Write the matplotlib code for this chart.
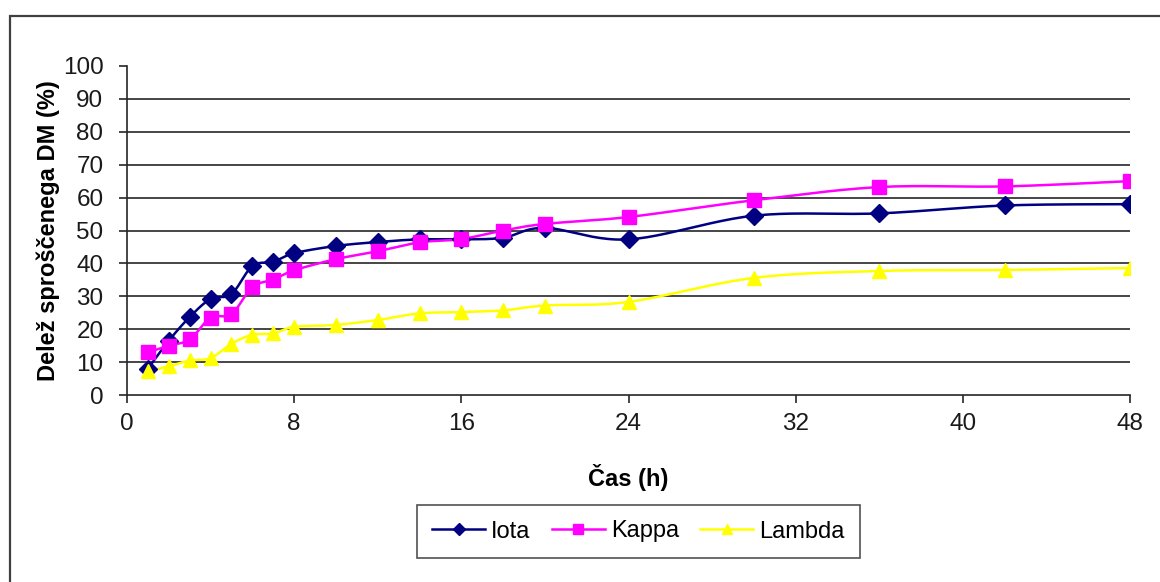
import numpy as np
import matplotlib
matplotlib.use("Agg")
import matplotlib.pyplot as plt
from matplotlib.patches import Rectangle

# Sampling times (h) and released dry-matter share (%)
hours = [1, 2, 3, 4, 5, 6, 7, 8, 10, 12, 14, 16, 18, 20, 24, 30, 36, 42, 48]
iota = [8.0, 16.5, 23.7, 29.2, 30.7, 39.2, 40.5, 43.1, 45.3, 46.5, 47.3, 47.3, 47.8, 50.8, 47.3, 54.5, 55.2, 57.6, 58.0]
kappa = [13.0, 15.0, 16.9, 23.5, 24.6, 32.8, 35.1, 37.9, 41.3, 43.7, 46.4, 47.4, 50.0, 52.0, 54.1, 59.2, 63.2, 63.4, 65.0]
lambda_ = [7.2, 8.7, 10.5, 11.2, 15.6, 18.3, 18.7, 20.7, 21.3, 22.8, 24.8, 25.2, 25.7, 27.2, 28.3, 35.6, 37.7, 38.0, 38.6]

series_names = ["Iota", "Kappa", "Lambda"]
x_ticks = [0, 8, 16, 24, 32, 40, 48]
y_ticks = list(range(0, 101, 10))

plt.rcParams["font.family"] = ["Liberation Sans", "DejaVu Sans"]


def smooth(xs, ys, n=24):
    """Catmull-Rom curve through the points, like a smoothed line chart."""
    p = np.column_stack([xs, ys]).astype(float)
    p = np.vstack([p[0], p, p[-1]])
    out = []
    t = np.linspace(0, 1, n, endpoint=False)[:, None]
    for i in range(1, len(p) - 2):
        p0, p1, p2, p3 = p[i - 1], p[i], p[i + 1], p[i + 2]
        c = 0.5 * ((2 * p1) + (-p0 + p2) * t + (2 * p0 - 5 * p1 + 4 * p2 - p3) * t ** 2
                   + (-p0 + 3 * p1 - 3 * p2 + p3) * t ** 3)
        out.append(c)
    out.append(p[-2][None, :])
    c = np.vstack(out)
    return c[:, 0], c[:, 1]


W, H = 1160, 582
fig = plt.figure(figsize=(W / 100, H / 100), dpi=100)
fig.patch.set_facecolor("white")

# Outer chart frame
fig.patches.append(Rectangle((9.5 / W, -0.05), 1.2, 1 - 15.5 / H + 0.05,
                             transform=fig.transFigure, fill=False,
                             edgecolor="#404040", linewidth=1.6, zorder=0))

ax = fig.add_axes([127 / W, 1 - 395 / H, (1130 - 127) / W, (395 - 66) / H])

styles = [
    dict(color="#000080", marker="D", ms=9),
    dict(color="#FF00FF", marker="s", ms=10),
    dict(color="#FFFF00", marker="^", ms=10.5),
]
for name, ys, st in zip(series_names, [iota, kappa, lambda_], styles):
    sx, sy = smooth(hours, ys)
    ax.plot(sx, sy, color=st["color"], lw=1.8, zorder=3)
    ax.plot(hours, ys, linestyle="none", marker=st["marker"], ms=st["ms"],
            color=st["color"], markeredgecolor=st["color"], zorder=4)

ax.set_xlim(0, 48)
ax.set_ylim(0, 100)
ax.set_xticks(x_ticks)
ax.set_yticks(y_ticks)
for yv in y_ticks[1:-1]:
    ax.axhline(yv, color="#262626", lw=1.2, zorder=1)

for side in ["top", "right"]:
    ax.spines[side].set_visible(False)
for side in ["left", "bottom"]:
    ax.spines[side].set_color("#262626")
    ax.spines[side].set_linewidth(1.2)
ax.tick_params(axis="both", direction="out", length=6, width=1.2, color="#262626",
               labelsize=17.5, labelcolor="#1a1a1a")
ax.tick_params(axis="x", pad=7)
ax.tick_params(axis="y", pad=11)

ax.set_xlabel("Čas (h)", fontsize=17, fontweight="bold", labelpad=21)
ax.set_ylabel("Delež sproščenega DM (%)", fontsize=17, fontweight="bold", labelpad=2)

handles = [plt.Line2D([], [], color=st["color"], marker=st["marker"], lw=1.8,
                      ms=st["ms"] * 0.72) for st in styles]
leg = fig.legend(handles, series_names, loc="center", ncol=3,
                 bbox_to_anchor=(638.5 / W, 1 - 531.5 / H), fontsize=17,
                 frameon=True, fancybox=False, edgecolor="#262626",
                 handlelength=2.25, handletextpad=0.25, columnspacing=0.9,
                 borderpad=0.65, borderaxespad=0)
leg.get_frame().set_linewidth(1.2)

fig.savefig("out.png", dpi=100, facecolor="white")
